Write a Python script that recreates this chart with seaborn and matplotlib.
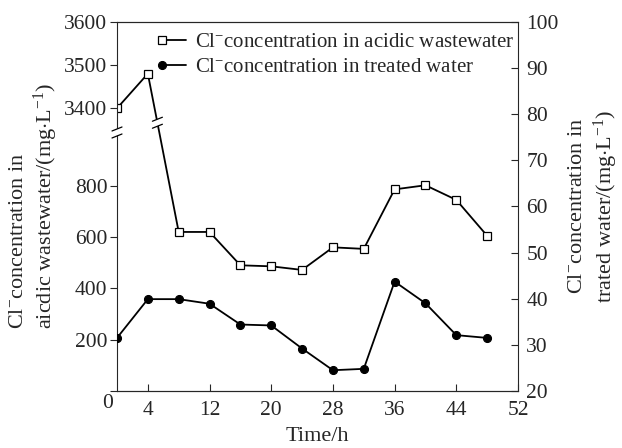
import numpy as np
import matplotlib
matplotlib.use("Agg")
import matplotlib.pyplot as plt
import seaborn as sns
from matplotlib.lines import Line2D
from matplotlib.patches import Polygon
from matplotlib.legend_handler import HandlerLine2D
from matplotlib.ticker import NullLocator
from matplotlib.transforms import IdentityTransform

# ---- data -------------------------------------------------------------
hours = [0, 4, 8, 12, 16, 20, 24, 28, 32, 36, 40, 44, 48]
acidic_cl = [3400, 3480, 620, 620, 490, 486, 472, 560, 554, 786, 802, 745, 605]
treated_cl = [31.5, 39.9, 39.9, 38.9, 34.4, 34.2, 29.2, 24.5, 24.8, 43.7, 39.0, 32.1, 31.5]

x_ticks = [4, 12, 20, 28, 36, 44, 52]
left_ticks = [0, 200, 400, 600, 800, 3400, 3500, 3600]
right_ticks = [20, 30, 40, 50, 60, 70, 80, 90, 100]

label_acidic = r"Cl$^{-}$concentration in acidic wastewater"
label_treated = r"Cl$^{-}$concentration in treated water"
ylabel_left = "Cl$^{-}$concentration in\naicdic wastewater/(mg$\\cdot$L$^{-1}$)"
ylabel_right = "Cl$^{-}$concentration in\ntrated water/(mg$\\cdot$L$^{-1}$)"
xlabel = "Time/h"

# ---- style ------------------------------------------------------------
sns.set_style("ticks")
plt.rcParams["font.family"] = ["Liberation Serif", "DejaVu Serif"]
plt.rcParams["mathtext.fontset"] = "custom"
plt.rcParams["mathtext.rm"] = "Liberation Serif"
plt.rcParams["mathtext.it"] = "Liberation Serif:italic"
plt.rcParams["axes.linewidth"] = 0.8

TICK_FS = 15.5
LABEL_FS = 16
LEGEND_FS = 15

# ---- broken left scale: linear up to LOW_END, squeezed gap, wider upper band
LOW_END, HIGH_START = 1000.0, 3400.0
HIGH_POS, HIGH_GAIN = 1102.0, 1.688


def fwd(v):
    v = np.asarray(v, dtype=float)
    mid = LOW_END + (v - LOW_END) * (HIGH_POS - LOW_END) / (HIGH_START - LOW_END)
    high = HIGH_POS + (v - HIGH_START) * HIGH_GAIN
    return np.where(v <= LOW_END, v, np.where(v >= HIGH_START, high, mid))


def inv(u):
    u = np.asarray(u, dtype=float)
    mid = LOW_END + (u - LOW_END) * (HIGH_START - LOW_END) / (HIGH_POS - LOW_END)
    high = HIGH_START + (u - HIGH_POS) / HIGH_GAIN
    return np.where(u <= LOW_END, u, np.where(u >= HIGH_POS, high, mid))


W, H = 622, 448
fig = plt.figure(figsize=(W / 100, H / 100), dpi=100)
ax = fig.add_axes([117 / W, 1 - 391 / H, (518 - 117) / W, (391 - 21.7) / H])

sns.lineplot(x=hours, y=acidic_cl, ax=ax, color="black", linewidth=1.3,
             marker="s", markersize=5.2, markerfacecolor="white",
             markeredgecolor="black", markeredgewidth=0.9)
line_acidic = ax.lines[-1]

ax.set_yscale("function", functions=(fwd, inv))
ax.set_xlim(0, 52)
ax.set_ylim(0, 3600)
ax.set_xticks(x_ticks)
ax.set_yticks(left_ticks)
ax.set_yticklabels(["" if t == 0 else str(t) for t in left_ticks])
ax.yaxis.set_minor_locator(NullLocator())
ax.xaxis.set_minor_locator(NullLocator())
ax.tick_params(axis="x", direction="in", length=5, width=0.8,
               labelsize=TICK_FS, pad=7)
ax.tick_params(axis="y", direction="out", length=5, width=0.8,
               labelsize=TICK_FS, pad=2)
ax.set_xlabel(xlabel, fontsize=LABEL_FS, labelpad=5)
ax.set_ylabel(ylabel_left, fontsize=LABEL_FS, labelpad=3)
ax.yaxis.label.set_multialignment("left")
ax.annotate("0", xy=(0, 0), xycoords="axes fraction", xytext=(-9, -12),
            textcoords="offset pixels", ha="center", va="center",
            fontsize=TICK_FS)

ax2 = ax.twinx()
sns.lineplot(x=hours, y=treated_cl, ax=ax2, color="black", linewidth=1.3,
             marker="o", markersize=5.8, markerfacecolor="black",
             markeredgecolor="black")
line_treated = ax2.lines[-1]
ax2.set_ylim(20, 100)
ax2.set_yticks(right_ticks)
ax2.yaxis.set_minor_locator(NullLocator())
ax2.tick_params(axis="y", direction="in", length=5, width=0.8,
                labelsize=TICK_FS, pad=6)
ax2.set_ylabel(ylabel_right, fontsize=LABEL_FS, labelpad=7)
ax2.spines["left"].set_visible(False)
ax.spines["right"].set_visible(False)
for a in (ax, ax2):
    leg = a.get_legend()
    if leg is not None:
        leg.remove()


class MarkerFirst(HandlerLine2D):
    """Legend key with the marker at the start of a short line."""

    def create_artists(self, legend, orig_handle, xdescent, ydescent,
                       width, height, fontsize, trans):
        artists = super().create_artists(legend, orig_handle, xdescent,
                                         ydescent, width, height, fontsize,
                                         trans)
        for art in artists:
            art.set_markevery([0])
        return artists


ax2.legend([line_acidic, line_treated], [label_acidic, label_treated],
           handler_map={Line2D: MarkerFirst(numpoints=2)},
           loc="upper left", bbox_to_anchor=(0.097, 0.97), frameon=False,
           fontsize=LEGEND_FS, handlelength=1.75, handletextpad=0.15,
           labelspacing=0.25, borderaxespad=0, borderpad=0)


# ---- break symbols -----------------------------------------------------
def draw_break(x, y, half_w=5.0, rise=2.0, gap=3.5):
    top = [(x - half_w, y + gap - rise), (x + half_w, y + gap + rise)]
    bot = [(x - half_w, y - gap - rise), (x + half_w, y - gap + rise)]
    fig.add_artist(Polygon([top[0], top[1], bot[1], bot[0]], closed=True,
                           facecolor="white", edgecolor="none",
                           transform=IdentityTransform(), zorder=5))
    for seg in (top, bot):
        fig.add_artist(Line2D([seg[0][0], seg[1][0]], [seg[0][1], seg[1][1]],
                              color="black", linewidth=0.9,
                              transform=IdentityTransform(), zorder=6))


sx, sy = ax.transAxes.transform((0, 0.70))
draw_break(sx, sy)

p0 = ax.transData.transform((hours[1], acidic_cl[1]))
p1 = ax.transData.transform((hours[2], acidic_cl[2]))
bx, by = p0 + 0.31 * (p1 - p0)
draw_break(bx, by)

fig.savefig("out.png", dpi=100)
